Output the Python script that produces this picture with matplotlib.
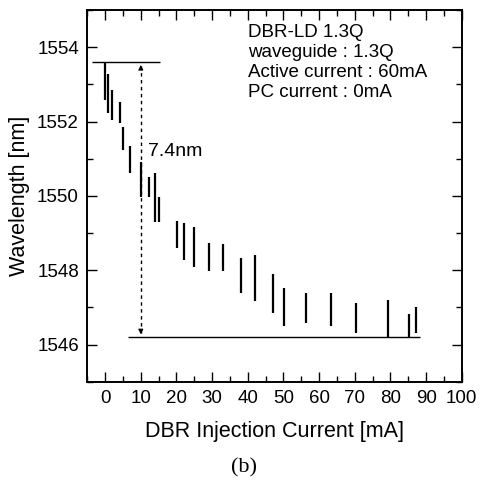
import matplotlib
matplotlib.use("Agg")
import matplotlib.pyplot as plt
from matplotlib.ticker import MultipleLocator

# Dados: cada modo aparece como um segmento vertical (faixa de comprimento de onda)
corrente = [0, 0.9, 2.0, 4.1, 4.9, 7.0, 10.0, 12.2, 14.1, 15.0,
            20.1, 22.0, 25.0, 29.0, 33.0, 38.2, 42.1, 47.2,
            50.1, 56.2, 63.2, 70.3, 79.2, 85.2, 87.2]
lambda_max = [1553.60, 1553.27, 1552.86, 1552.54, 1551.85, 1551.35, 1550.92, 1550.52, 1550.61, 1549.98,
              1549.33, 1549.28, 1549.17, 1548.74, 1548.70, 1548.32, 1548.41, 1547.90,
              1547.51, 1547.40, 1547.40, 1547.11, 1547.21, 1546.81, 1547.01]
lambda_min = [1552.59, 1552.23, 1552.04, 1551.96, 1551.24, 1550.61, 1549.98, 1549.98, 1549.31, 1549.31,
              1548.59, 1548.27, 1548.08, 1547.98, 1547.98, 1547.38, 1547.18, 1546.86,
              1546.49, 1546.58, 1546.49, 1546.30, 1546.20, 1546.20, 1546.31]

# Linhas de referencia (7.4 nm de sintonia)
topo = 1553.60
base = 1546.20
topo_x = [-3.7, 15.3]
base_x = [6.5, 88.3]
seta_x = 10.0

plt.rcParams['font.family'] = ['Liberation Sans', 'DejaVu Sans']

fig = plt.figure(figsize=(4.81, 4.84), dpi=100)
ax = fig.add_axes([0.1815, 0.2114, 0.7785, 0.7676])

ax.vlines(corrente, lambda_min, lambda_max, colors='black', linewidth=1.6)
ax.hlines(topo, topo_x[0], topo_x[1], colors='black', linewidth=1.0)
ax.hlines(base, base_x[0], base_x[1], colors='black', linewidth=1.0)

# seta tracejada
ax.plot([seta_x, seta_x], [base + 0.1, topo - 0.1], color='black', lw=1.0, ls=(0, (2.5, 2.5)))
ax.annotate('', xy=(seta_x, topo), xytext=(seta_x, topo - 0.25),
            arrowprops=dict(arrowstyle='-|>', color='black', lw=0.8, mutation_scale=7))
ax.annotate('', xy=(seta_x, base), xytext=(seta_x, base + 0.25),
            arrowprops=dict(arrowstyle='-|>', color='black', lw=0.8, mutation_scale=7))
ax.text(12.0, 1551.2, '7.4nm', fontsize=14, va='center', ha='left')

info = 'DBR-LD 1.3Q\nwaveguide : 1.3Q\nActive current : 60mA\nPC current : 0mA'
ax.text(40.0, 1554.62, info, fontsize=13.5, va='top', ha='left', linespacing=1.22)

ax.set_xlim(-5, 100)
ax.set_ylim(1545, 1555)
ax.xaxis.set_major_locator(MultipleLocator(10))
ax.xaxis.set_minor_locator(MultipleLocator(5))
ax.yaxis.set_major_locator(MultipleLocator(2))
ax.yaxis.set_minor_locator(MultipleLocator(1))
ax.tick_params(which='both', direction='in', top=True, right=True, width=1.0, labelsize=13.5)
ax.tick_params(which='major', length=7, pad=6)
ax.tick_params(which='minor', length=4)
for s in ax.spines.values():
    s.set_linewidth(1.4)

ax.set_xlabel('DBR Injection Current [mA]', fontsize=15.5, labelpad=10)
ax.set_ylabel('Wavelength [nm]', fontsize=15.5, labelpad=5)

fig.text(0.507, 0.033, '(b)', fontsize=16, family='Liberation Serif', ha='center', va='center')

fig.savefig('out.png', dpi=100)
